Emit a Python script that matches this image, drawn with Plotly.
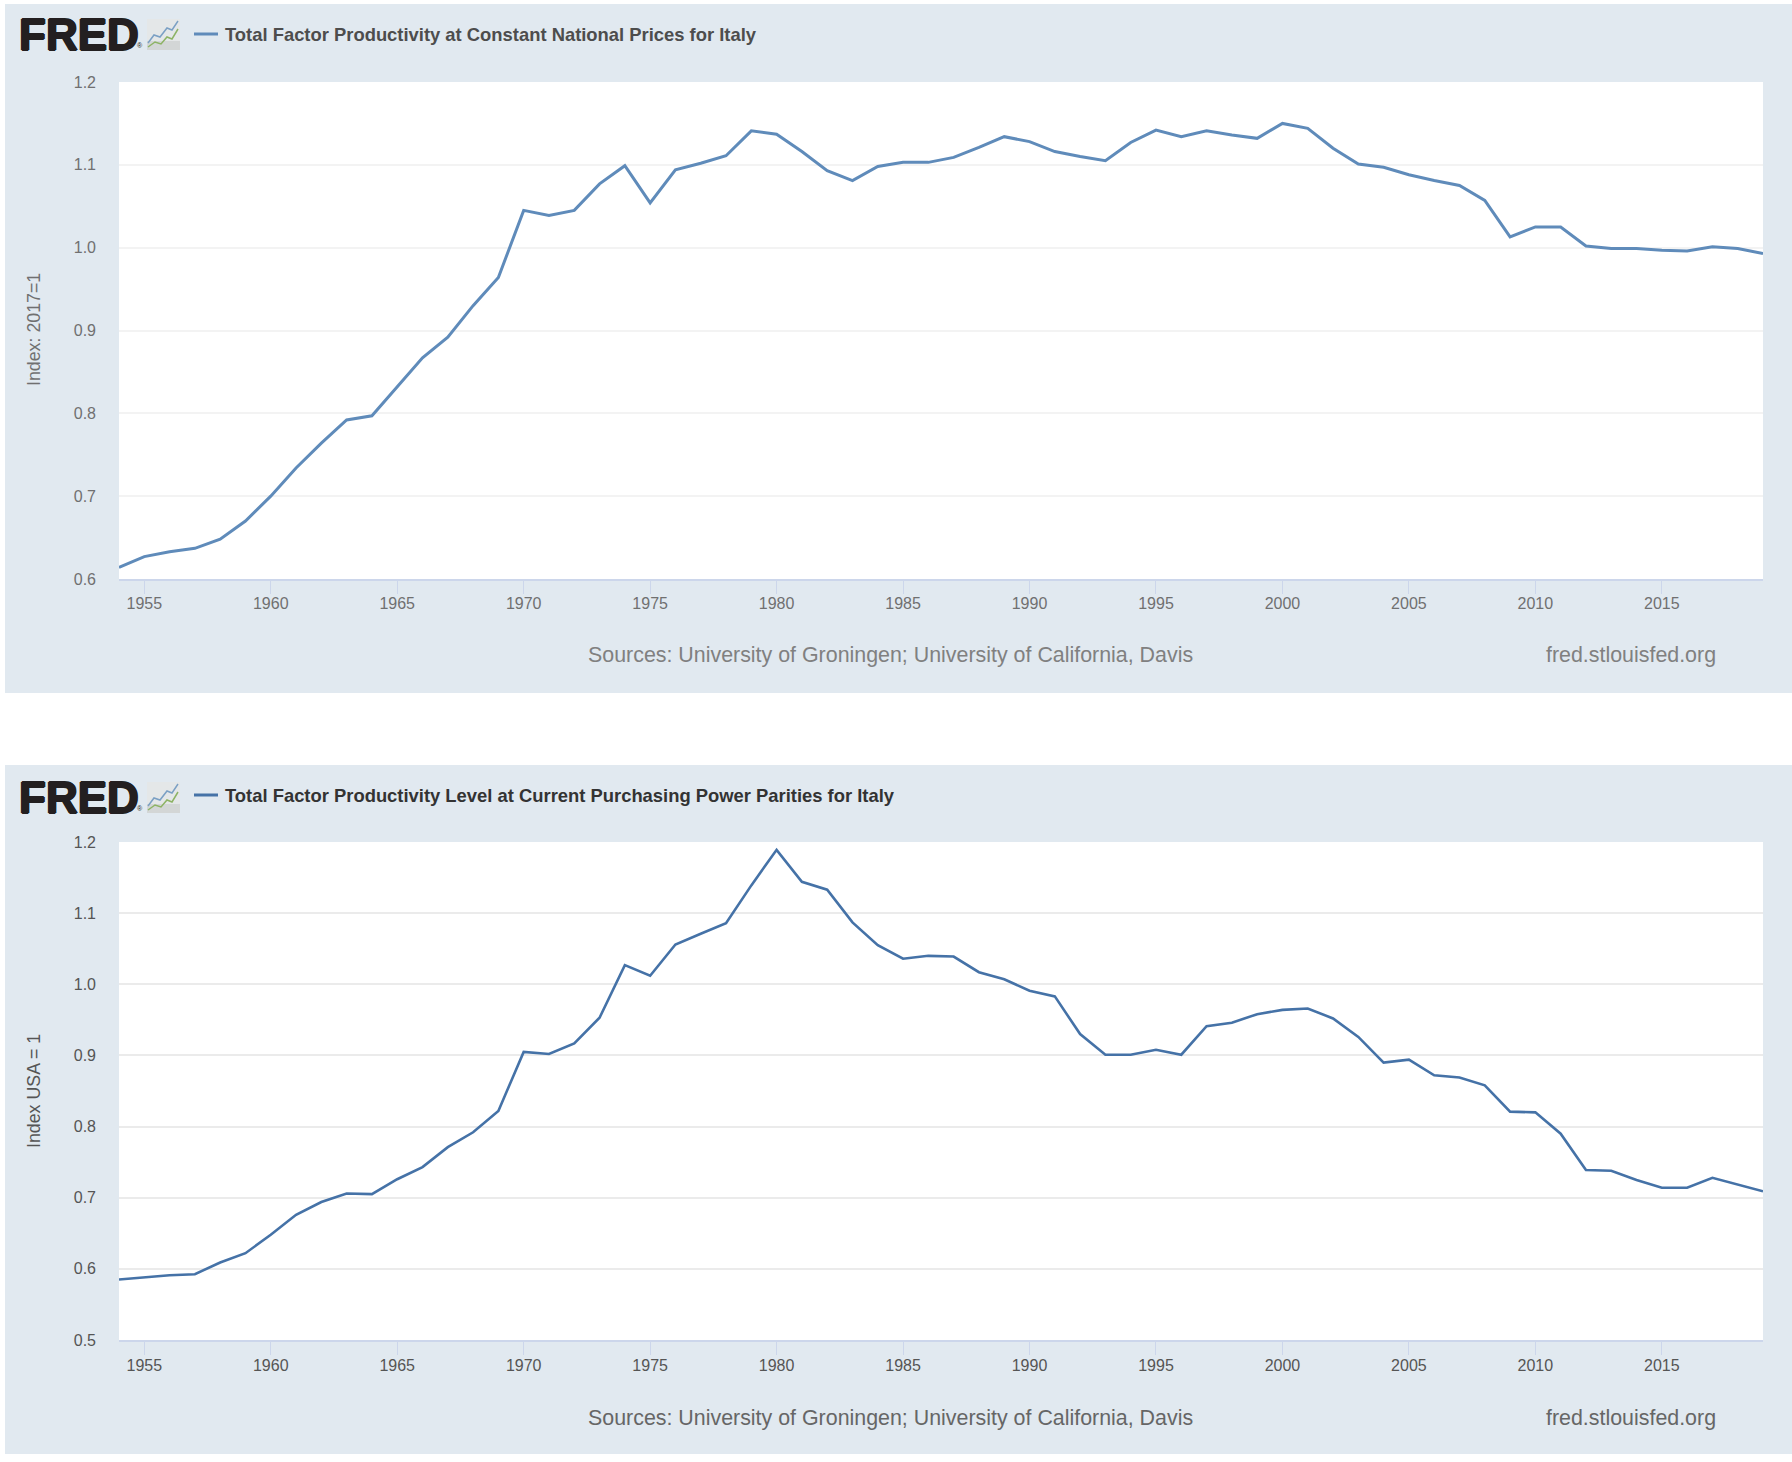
import plotly.graph_objects as go

W, H = 1792, 1462

years = list(range(1954, 2020))
constant_prices = [
    0.614, 0.627, 0.633, 0.637, 0.648, 0.670, 0.700, 0.734, 0.764, 0.792, 0.797,
    0.832, 0.867, 0.892, 0.930, 0.964, 1.045, 1.039, 1.045, 1.077, 1.099,
    1.054, 1.094, 1.102, 1.111, 1.141, 1.137, 1.116, 1.093, 1.081, 1.098,
    1.103, 1.103, 1.109, 1.121, 1.134, 1.128, 1.116, 1.110, 1.105, 1.127,
    1.142, 1.134, 1.141, 1.136, 1.132, 1.150, 1.144, 1.120, 1.101, 1.097,
    1.088, 1.081, 1.075, 1.057, 1.013, 1.025, 1.025, 1.002, 0.999, 0.999,
    0.997, 0.996, 1.001, 0.999, 0.993,
]
current_ppp = [
    0.585, 0.588, 0.591, 0.5925, 0.609, 0.622, 0.648, 0.676, 0.694, 0.706, 0.705,
    0.726, 0.743, 0.771, 0.792, 0.822, 0.905, 0.902, 0.917, 0.953, 1.027,
    1.012, 1.056, 1.071, 1.086, 1.139, 1.189, 1.144, 1.133, 1.087, 1.055,
    1.036, 1.040, 1.039, 1.017, 1.007, 0.991, 0.983, 0.930, 0.901, 0.901,
    0.908, 0.901, 0.941, 0.946, 0.958, 0.964, 0.966, 0.952, 0.926, 0.890,
    0.894, 0.872, 0.869, 0.858, 0.821, 0.820, 0.790, 0.739, 0.738, 0.725,
    0.714, 0.714, 0.728, 0.718, 0.709,
]
x_ticks = list(range(1955, 2016, 5))
y_ticks_top = [0.6, 0.7, 0.8, 0.9, 1.0, 1.1, 1.2]
y_ticks_bottom = [0.5, 0.6, 0.7, 0.8, 0.9, 1.0, 1.1, 1.2]
title_top = "Total Factor Productivity at Constant National Prices for Italy"
title_bottom = "Total Factor Productivity Level at Current Purchasing Power Parities for Italy"
ylabel_top = "Index: 2017=1"
ylabel_bottom = "Index USA = 1"
source_text = "Sources: University of Groningen; University of California, Davis"
site_text = "fred.stlouisfed.org"

FONT = "Liberation Sans"
PANEL = "#e1e9f0"


def px(x):
    return x / W


def py(y):
    return 1 - y / H


fig = go.Figure()
fig.add_trace(go.Scatter(x=years, y=constant_prices, mode="lines", xaxis="x", yaxis="y",
                         line=dict(color="#5f8bba", width=3), showlegend=False))
fig.add_trace(go.Scatter(x=years, y=current_ppp, mode="lines", xaxis="x2", yaxis="y2",
                         line=dict(color="#4572a7", width=2.6), showlegend=False))


def xaxis(anchor, color, standoff):
    return dict(domain=[px(119), px(1763)], range=[1954, 2019], anchor=anchor, automargin=False,
                tickmode="array", tickvals=x_ticks, tickformat="d",
                ticks="outside", ticklen=13, tickwidth=1, tickcolor="#ccd6eb",
                ticklabelstandoff=standoff,
                showline=True, linecolor="#ccd6eb", linewidth=1.5,
                showgrid=False, zeroline=False,
                tickfont=dict(family=FONT, size=16, color=color))


def yaxis(anchor, rng, ticks, top, bottom, grid, color):
    return dict(domain=[py(bottom), py(top)], range=rng, anchor=anchor, automargin=False,
                tickmode="array", tickvals=ticks, tickformat=".1f",
                showgrid=True, gridcolor=grid, gridwidth=1.5, zeroline=False,
                showline=False, ticks="", ticklabelstandoff=22,
                tickfont=dict(family=FONT, size=16, color=color))


shapes = []


def rect(x0, y0, x1, y1, fill):
    shapes.append(dict(type="rect", xref="paper", yref="paper", layer="below",
                       x0=px(x0), x1=px(x1), y0=py(y0), y1=py(y1),
                       fillcolor=fill, line=dict(width=0)))


annotations = []


def text(x, y, s, size, color, anchor="left", bold=False, angle=0, shadow=None):
    font = dict(family=FONT, size=size, color=color)
    if shadow:
        font["shadow"] = shadow
    annotations.append(dict(xref="paper", yref="paper", x=px(x), y=py(y), text=f"<b>{s}</b>" if bold else s,
                            showarrow=False, xanchor=anchor, yanchor="middle", textangle=angle,
                            font=font, borderpad=0, borderwidth=0))


def icon(top):
    # small logo chart icon
    rect(147, top, 180, top + 31, "#e4e7e8")
    rect(147, top + 22, 180, top + 31, "#d3d6d6")
    shapes.append(dict(type="path", xref="paper", yref="paper",
                       path="M {} {} L {} {} L {} {} L {} {} L {} {} L {} {}".format(
                           px(148), py(top + 24), px(154), py(top + 16), px(160), py(top + 18),
                           px(167), py(top + 9), px(172), py(top + 11), px(178), py(top + 2)),
                       line=dict(color="#7ba0c4", width=1.5)))
    shapes.append(dict(type="path", xref="paper", yref="paper",
                       path="M {} {} L {} {} L {} {} L {} {} L {} {} L {} {}".format(
                           px(148), py(top + 28), px(155), py(top + 23), px(161), py(top + 25),
                           px(167), py(top + 18), px(172), py(top + 20), px(178), py(top + 10)),
                       line=dict(color="#8db364", width=1.5)))


def swatch(y, color):
    shapes.append(dict(type="line", xref="paper", yref="paper",
                       x0=px(194), x1=px(218), y0=py(y), y1=py(y),
                       line=dict(color=color, width=3)))


LOGO_SHADOW = "1px 0 0 #231f20, -1px 0 0 #231f20, 0 1px 0 #231f20, 0 -1px 0 #231f20"

# top panel
rect(5, 4, W, 693, PANEL)
rect(119, 82, 1763, 579, "white")
text(19, 35, "FRED", 44, "#231f20", bold=True, shadow=LOGO_SHADOW)
text(137, 46, "®", 7, "#231f20")
icon(19)
swatch(34, "#5f8bba")
text(225, 34, title_top, 18.4, "#4d4d4d", bold=True)
text(34, 330, ylabel_top, 17.8, "#707070", anchor="center", angle=-90)
text(588, 655, source_text, 21.4, "#808080")
text(1546, 655, site_text, 21.4, "#808080")

# bottom panel
rect(5, 765, W, 1454, PANEL)
rect(119, 842, 1763, 1340, "white")
text(19, 797, "FRED", 44, "#231f20", bold=True, shadow=LOGO_SHADOW)
text(137, 808, "®", 7, "#231f20")
icon(782)
swatch(795, "#4572a7")
text(225, 795, title_bottom, 18.4, "#333333", bold=True)
text(34, 1091, ylabel_bottom, 17.8, "#555555", anchor="center", angle=-90)
text(588, 1418, source_text, 21.4, "#666666")
text(1546, 1418, site_text, 21.4, "#666666")

fig.update_layout(
    width=W, height=H, autosize=False,
    margin=dict(l=0, r=0, t=0, b=0),
    paper_bgcolor="white", plot_bgcolor="white",
    showlegend=False,
    xaxis=xaxis("y", "#707070", -4),
    yaxis=yaxis("x", [0.6, 1.2], y_ticks_top, 82, 579, "#f3f3f3", "#707070"),
    xaxis2=xaxis("y2", "#555555", -3),
    yaxis2=yaxis("x2", [0.5, 1.2], y_ticks_bottom, 842, 1340, "#ebebeb", "#555555"),
    shapes=shapes,
    annotations=annotations,
)

fig.write_html("out.html", config={"displayModeBar": False},
               post_script="document.body.style.margin='0';")
